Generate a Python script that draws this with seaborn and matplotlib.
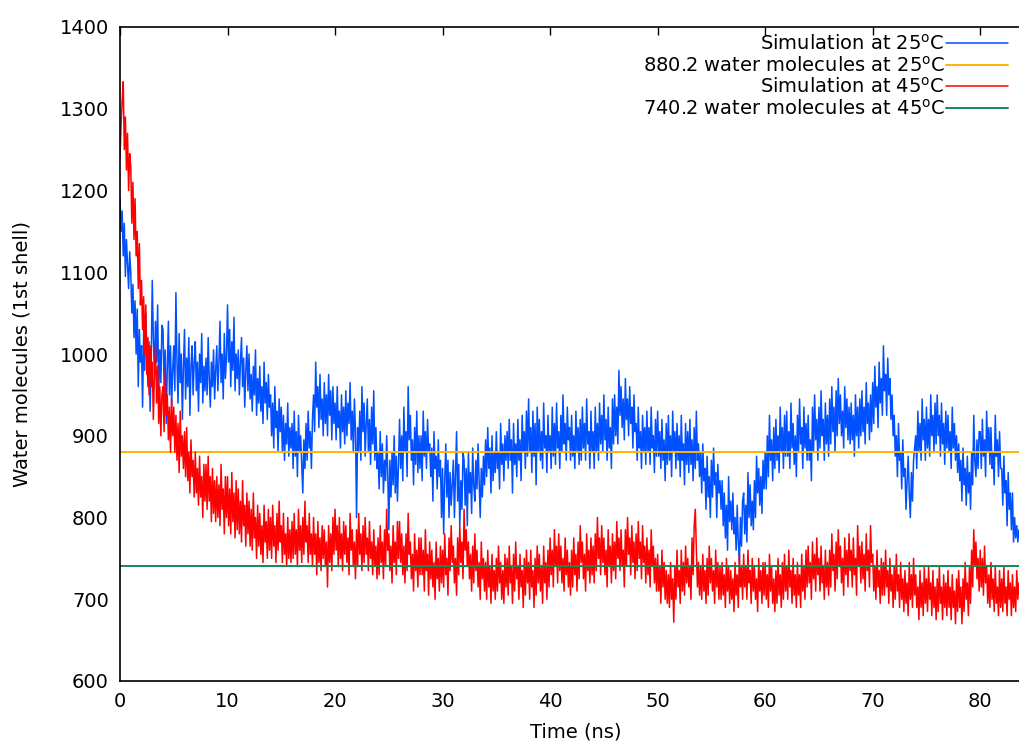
import numpy as np
import pandas as pd
import matplotlib
matplotlib.use("Agg")
import matplotlib.pyplot as plt
import seaborn as sns

# water molecules in the 1st shell, one value every 0.1 ns (one row = 1 ns)
sim_25 = [
    1190, 1150, 1175, 1120, 1160, 1095, 1140, 1110, 1080, 1125,
    1100, 1050, 1085, 1020, 1065, 1000, 1055, 960, 1030, 990,
    1010, 935, 1030, 980, 1050, 1000, 960, 1015, 930, 990,
    1090, 1020, 975, 1040, 990, 1060, 950, 1005, 965, 1035,
    1030, 960, 1005, 915, 985, 1040, 950, 1010, 935, 980,
    1010, 955, 1075, 990, 940, 1025, 965, 1000, 920, 985,
    1030, 945, 995, 960, 1020, 925, 985, 1010, 950, 990,
    1015, 955, 990, 930, 1000, 965, 1025, 940, 985, 955,
    995, 950, 1020, 970, 935, 990, 960, 1005, 945, 980,
    1010, 955, 990, 1040, 965, 1000, 945, 1025, 970, 995,
    1060, 990, 1030, 960, 1015, 980, 1045, 955, 1000, 970,
    1005, 950, 990, 1020, 960, 995, 935, 980, 1010, 955,
    1000, 945, 975, 930, 985, 950, 1005, 925, 970, 940,
    985, 930, 960, 915, 990, 940, 965, 920, 975, 935,
    950, 900, 940, 885, 960, 910, 930, 880, 945, 905,
    935, 880, 925, 870, 915, 890, 940, 875, 910, 885,
    915, 860, 930, 875, 905, 850, 925, 880, 900, 865,
    830, 895, 860, 915, 870, 930, 885, 905, 860, 920,
    950, 905, 990, 935, 960, 910, 975, 920, 945, 900,
    965, 915, 950, 900, 975, 925, 955, 895, 960, 915,
    940, 895, 960, 910, 930, 885, 950, 905, 935, 890,
    955, 900, 940, 915, 965, 895, 930, 880, 945, 905,
    800, 910, 880, 930, 870, 960, 905, 940, 875, 915,
    945, 880, 920, 865, 935, 890, 955, 870, 910, 860,
    880, 835, 905, 850, 890, 830, 870, 845, 900, 855,
    785, 870, 825, 880, 840, 900, 830, 875, 820, 865,
    920, 860, 900, 845, 935, 880, 905, 850, 960, 895,
    925, 870, 895, 840, 910, 865, 930, 855, 900, 860,
    900, 845, 930, 875, 905, 860, 920, 880, 890, 850,
    885, 820, 905, 860, 875, 835, 895, 850, 870, 800,
    860, 780, 845, 890, 825, 870, 800, 855, 815, 840,
    870, 800, 850, 905, 820, 865, 790, 845, 810, 880,
    870, 815, 860, 790, 880, 830, 855, 805, 885, 840,
    820, 870, 835, 890, 845, 800, 860, 825, 875, 840,
    895, 850, 910, 860, 885, 830, 900, 845, 880, 855,
    905, 860, 880, 835, 915, 865, 890, 845, 900, 870,
    905, 860, 920, 870, 895, 830, 915, 865, 890, 850,
    920, 870, 895, 845, 925, 880, 905, 860, 930, 875,
    945, 880, 910, 855, 930, 875, 915, 840, 935, 880,
    920, 870, 905, 860, 940, 885, 900, 855, 925, 880,
    900, 860, 935, 875, 915, 865, 940, 885, 905, 860,
    925, 880, 950, 890, 915, 870, 935, 895, 910, 870,
    925, 875, 900, 860, 930, 880, 910, 865, 920, 870,
    935, 885, 915, 870, 945, 890, 905, 860, 930, 880,
    905, 860, 935, 880, 915, 870, 940, 890, 925, 880,
    950, 895, 920, 870, 935, 885, 910, 860, 945, 890,
    950, 900, 935, 890, 980, 925, 960, 910, 945, 895,
    970, 920, 945, 900, 960, 915, 935, 885, 950, 905,
    915, 870, 935, 885, 905, 860, 925, 880, 910, 865,
    930, 880, 910, 865, 935, 885, 900, 855, 920, 875,
    930, 875, 905, 860, 920, 870, 895, 845, 915, 865,
    925, 870, 900, 850, 930, 880, 905, 860, 915, 870,
    900, 850, 925, 870, 890, 840, 915, 865, 905, 855,
    920, 865, 895, 845, 910, 860, 930, 870, 890, 850,
    880, 830, 890, 845, 860, 810, 875, 825, 850, 800,
    870, 825, 885, 840, 855, 800, 865, 830, 845, 810,
    845, 790, 830, 775, 815, 760, 850, 795, 820, 785,
    830, 780, 800, 760, 815, 770, 745, 800, 765, 820,
    830, 780, 815, 770, 855, 800, 840, 790, 820, 785,
    845, 800, 875, 830, 860, 815, 850, 805, 870, 835,
    880, 835, 900, 850, 925, 870, 895, 845, 910, 860,
    920, 870, 900, 855, 935, 880, 910, 860, 925, 875,
    930, 875, 905, 860, 940, 885, 915, 865, 900, 850,
    925, 880, 945, 890, 910, 860, 935, 885, 915, 870,
    925, 870, 895, 845, 935, 880, 950, 895, 920, 870,
    935, 885, 955, 900, 920, 870, 940, 890, 925, 875,
    945, 890, 960, 905, 935, 880, 955, 900, 970, 915,
    950, 900, 930, 885, 960, 910, 945, 895, 935, 890,
    940, 895, 925, 875, 950, 900, 935, 885, 945, 900,
    955, 905, 935, 890, 965, 915, 940, 895, 950, 905,
    965, 915, 985, 935, 960, 910, 990, 940, 970, 925,
    1010, 955, 975, 925, 995, 950, 970, 920, 950, 900,
    925, 875, 900, 850, 915, 870, 880, 835, 895, 850,
    860, 810, 845, 875, 830, 800, 855, 820, 870, 885,
    900, 860, 930, 880, 915, 870, 945, 895, 920, 870,
    935, 885, 920, 875, 950, 900, 925, 880, 940, 890,
    950, 900, 925, 875, 940, 890, 915, 865, 930, 885,
    925, 880, 905, 860, 935, 885, 915, 870, 900, 855,
    890, 845, 870, 820, 885, 840, 860, 815, 875, 830,
    855, 810, 880, 840, 925, 870, 850, 895, 860, 905,
    905, 860, 920, 875, 895, 850, 930, 880, 910, 865,
    910, 860, 880, 840, 925, 875, 895, 850, 905, 860,
    860, 815, 875, 830, 845, 790, 855, 810, 830, 785,
    830, 770, 800, 775, 790, 770, 785,
]

sim_45 = [
    1240, 1280, 1310, 1333, 1250, 1290, 1225, 1270, 1200, 1245,
    1230, 1160, 1210, 1140, 1190, 1120, 1150, 1080, 1135, 1060,
    1090, 1030, 1070, 1000, 1060, 975, 1020, 950, 1010, 960,
    990, 920, 975, 1010, 940, 985, 915, 960, 900, 950,
    960, 905, 980, 925, 950, 895, 935, 880, 945, 900,
    935, 880, 925, 870, 915, 855, 930, 875, 900, 860,
    905, 850, 910, 845, 880, 830, 895, 850, 870, 825,
    880, 830, 860, 815, 875, 825, 850, 800, 865, 820,
    865, 810, 875, 820, 850, 795, 860, 805, 845, 795,
    850, 800, 840, 790, 865, 810, 835, 780, 850, 800,
    850, 790, 835, 780, 855, 795, 830, 775, 845, 785,
    835, 780, 820, 770, 845, 790, 815, 765, 830, 780,
    820, 765, 810, 760, 830, 775, 800, 750, 815, 765,
    805, 755, 790, 745, 815, 770, 795, 750, 810, 760,
    800, 750, 815, 765, 790, 745, 805, 760, 820, 770,
    790, 745, 805, 755, 780, 740, 800, 750, 785, 745,
    795, 750, 805, 755, 785, 740, 810, 760, 790, 745,
    800, 755, 820, 770, 790, 745, 805, 755, 780, 740,
    800, 755, 780, 730, 795, 745, 775, 735, 790, 750,
    785, 740, 770, 715, 790, 745, 780, 735, 800, 755,
    810, 760, 790, 740, 800, 750, 780, 735, 795, 755,
    790, 745, 775, 730, 805, 760, 785, 740, 770, 725,
    785, 740, 805, 755, 780, 735, 790, 745, 800, 755,
    775, 735, 795, 750, 770, 730, 785, 740, 765, 725,
    775, 730, 790, 745, 770, 725, 785, 740, 810, 760,
    780, 735, 765, 720, 790, 745, 770, 730, 795, 750,
    795, 745, 780, 730, 765, 720, 780, 735, 805, 755,
    770, 725, 755, 710, 780, 735, 760, 715, 775, 730,
    775, 730, 760, 710, 785, 735, 755, 705, 770, 725,
    760, 715, 745, 700, 770, 725, 750, 710, 765, 720,
    760, 715, 780, 730, 750, 705, 775, 735, 790, 745,
    765, 720, 750, 705, 775, 730, 790, 745, 770, 725,
    810, 760, 785, 740, 770, 725, 755, 710, 765, 720,
    780, 735, 760, 715, 745, 700, 770, 725, 750, 710,
    745, 700, 760, 715, 740, 695, 755, 710, 735, 700,
    750, 710, 765, 720, 745, 700, 735, 695, 755, 715,
    750, 705, 765, 720, 740, 695, 755, 710, 770, 725,
    740, 700, 755, 715, 735, 690, 750, 705, 760, 720,
    745, 700, 760, 715, 735, 690, 750, 705, 765, 720,
    755, 710, 740, 695, 765, 720, 745, 700, 760, 715,
    775, 730, 760, 715, 785, 740, 765, 720, 780, 735,
    765, 720, 750, 710, 775, 730, 760, 715, 745, 705,
    760, 715, 775, 730, 755, 710, 770, 725, 790, 745,
    770, 725, 755, 710, 780, 735, 760, 720, 775, 730,
    765, 720, 780, 735, 800, 750, 775, 730, 790, 745,
    775, 730, 760, 715, 785, 740, 765, 720, 780, 735,
    770, 725, 795, 750, 775, 735, 785, 740, 760, 715,
    785, 740, 800, 755, 775, 730, 790, 745, 770, 725,
    780, 735, 795, 750, 770, 725, 790, 745, 765, 720,
    775, 730, 760, 715, 785, 740, 765, 720, 750, 710,
    755, 710, 740, 695, 760, 715, 745, 700, 735, 695,
    730, 690, 745, 700, 725, 672, 740, 700, 760, 715,
    735, 695, 760, 710, 745, 705, 765, 720, 750, 715,
    740, 700, 775, 730, 790, 810, 760, 715, 745, 705,
    740, 700, 755, 710, 735, 695, 750, 705, 765, 720,
    750, 710, 735, 695, 760, 715, 745, 700, 740, 700,
    745, 705, 730, 690, 750, 710, 740, 695, 735, 700,
    725, 685, 745, 705, 730, 690, 755, 715, 740, 700,
    755, 715, 740, 700, 760, 720, 735, 695, 750, 710,
    740, 700, 725, 685, 750, 710, 735, 695, 745, 705,
    745, 700, 730, 690, 755, 710, 740, 695, 725, 685,
    735, 695, 750, 705, 730, 690, 745, 700, 755, 710,
    740, 700, 760, 715, 735, 695, 750, 705, 730, 690,
    745, 705, 730, 690, 755, 710, 740, 700, 760, 715,
    765, 720, 745, 700, 770, 725, 755, 710, 775, 730,
    750, 710, 765, 720, 740, 700, 760, 715, 745, 705,
    760, 715, 780, 735, 755, 710, 770, 725, 785, 740,
    765, 720, 750, 705, 775, 730, 760, 715, 780, 735,
    760, 715, 775, 730, 750, 705, 790, 740, 765, 720,
    770, 725, 755, 710, 780, 735, 760, 715, 790, 745,
    755, 710, 740, 700, 760, 715, 735, 695, 750, 705,
    745, 705, 760, 715, 735, 695, 750, 710, 730, 690,
    740, 700, 755, 710, 730, 690, 745, 700, 725, 685,
    735, 695, 720, 680, 745, 700, 730, 690, 750, 705,
    730, 690, 715, 675, 735, 690, 720, 680, 740, 695,
    725, 685, 740, 700, 720, 680, 735, 690, 715, 675,
    725, 685, 740, 695, 715, 675, 730, 690, 720, 680,
    735, 690, 715, 675, 730, 690, 710, 670, 725, 685,
    735, 690, 715, 670, 725, 685, 745, 700, 720, 680,
    740, 695, 760, 715, 785, 740, 770, 725, 750, 710,
    760, 715, 750, 705, 765, 720, 740, 695, 730, 690,
    745, 700, 725, 685, 740, 695, 715, 680, 735, 690,
    725, 685, 740, 695, 715, 680, 735, 700, 720, 680,
    730, 690, 715, 685, 735, 700, 720,
]

avg_25 = 880.2
avg_45 = 740.2
step_ns = 0.1

df25 = pd.DataFrame({"time": np.arange(len(sim_25)) * step_ns, "water": sim_25})
df45 = pd.DataFrame({"time": np.arange(len(sim_45)) * step_ns, "water": sim_45})

sns.set_style("white")
plt.rcParams["font.family"] = ["DejaVu Sans"]
plt.rcParams["mathtext.default"] = "regular"
plt.rcParams["text.color"] = "black"
plt.rcParams["axes.labelcolor"] = "black"

fig = plt.figure(figsize=(10.2, 7.43), dpi=100)
ax = fig.add_axes([120 / 1020, 62 / 743, 900 / 1020, 654 / 743])

sns.lineplot(data=df25, x="time", y="water", ax=ax, color="#0050ff", lw=1.1,
             label=r"Simulation at 25$^{o}$C")
ax.axhline(avg_25, color="#ffb400", lw=1.4,
           label=r"880.2 water molecules at 25$^{o}$C")
sns.lineplot(data=df45, x="time", y="water", ax=ax, color="#ff0000", lw=1.1,
             label=r"Simulation at 45$^{o}$C")
ax.axhline(avg_45, color="#108a55", lw=1.4,
           label=r"740.2 water molecules at 45$^{o}$C")

ax.set_xlim(0, 83.7)
ax.set_ylim(600, 1400)
ax.set_xticks(range(0, 90, 10))
ax.set_yticks(range(600, 1500, 100))
ax.tick_params(direction="in", length=6, width=1, labelsize=14, pad=8,
               top=True, right=False, colors="black")
for side in ["left", "bottom", "top"]:
    ax.spines[side].set_color("black")
    ax.spines[side].set_linewidth(1.2)
ax.spines["right"].set_visible(False)

ax.set_xlabel("Time (ns)", fontsize=14)
ax.set_ylabel("Water molecules (1st shell)", fontsize=14)
ax.xaxis.set_label_coords(0.506, -0.064)
ax.yaxis.set_label_coords(-0.098, 0.5)

leg = ax.legend(loc="upper right", bbox_to_anchor=(1008 / 1020, 1 - 34 / 743),
                bbox_transform=fig.transFigure, frameon=False, markerfirst=False,
                fontsize=14, handlelength=3.2, handletextpad=0.05,
                labelspacing=0.08, borderpad=0, borderaxespad=0)
for txt in leg.get_texts():
    txt.set_color("black")

fig.savefig("out.png", dpi=100)
